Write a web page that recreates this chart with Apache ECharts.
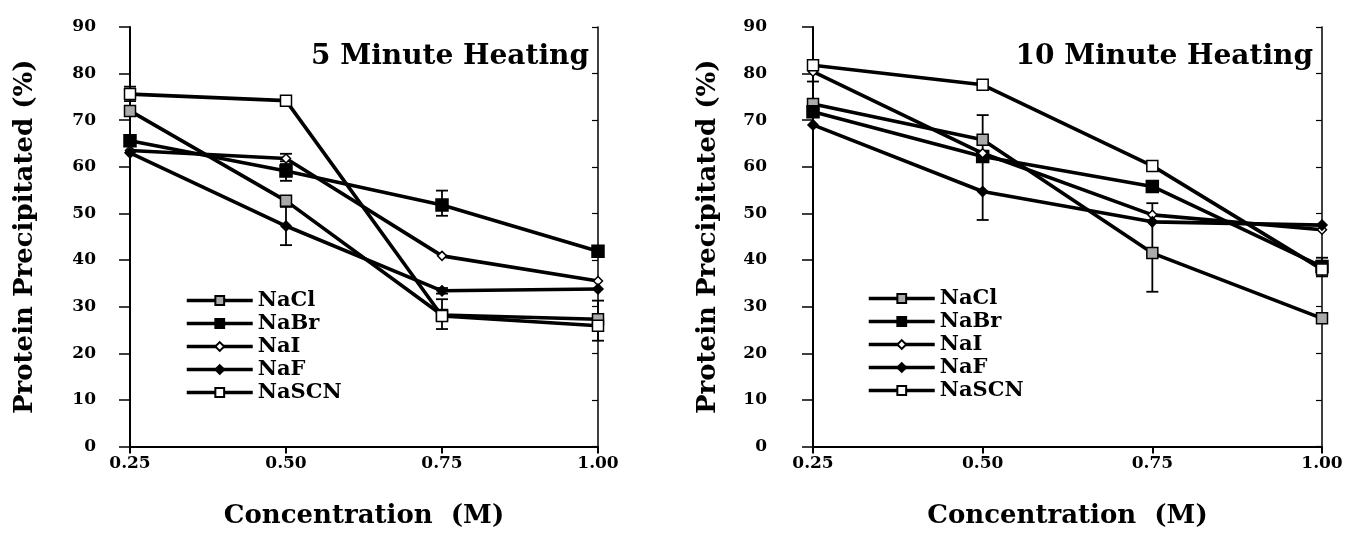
<!DOCTYPE html>
<html><head><meta charset="utf-8">
<script src="https://cdn.jsdelivr.net/npm/echarts@6/dist/echarts.min.js"></script>
<style>html,body{margin:0;padding:0;background:#fff}#c{width:1352px;height:538px}</style>
</head><body><div id="c"></div>
<script>
// ---- data ----
const concentrations = [0.25, 0.50, 0.75, 1.00];
const yTicks = [0,10,20,30,40,50,60,70,80,90];
const saltNames = ['NaCl','NaBr','NaI','NaF','NaSCN'];
// 5 minute heating
const NaCl_5  = [72.0, 52.7, 28.2, 27.3];
const NaBr_5  = [65.6, 59.1, 51.8, 41.9];
const NaI_5   = [63.5, 61.8, 40.9, 35.5];
const NaF_5   = [63.0, 47.3, 33.4, 33.8];
const NaSCN_5 = [75.6, 74.2, 28.0, 25.9];
// error bars [x, low, high]
const err_5 = [[0.25,74.1,77.2],[0.50,60.6,62.8],[0.50,57.0,61.2],[0.50,43.2,51.4],
               [0.75,49.5,54.9],[0.75,32.8,34.0],[0.75,25.2,31.6],[1.00,22.7,31.3]];
// 10 minute heating
const NaCl_10  = [73.5, 65.8, 41.5, 27.5];
const NaBr_10  = [71.8, 62.2, 55.8, 38.6];
const NaI_10   = [80.4, 62.9, 49.7, 46.5];
const NaF_10   = [69.0, 54.7, 48.2, 47.5];
const NaSCN_10 = [81.8, 77.6, 60.2, 38.0];
const err_10 = [[0.25,78.3,82.6],[0.50,48.6,71.1],[0.75,33.2,52.2],[1.00,36.5,40.5]];
const panelTitles = ['5 Minute Heating','10 Minute Heating'];
const xTitle = 'Concentration  (M)';
const yTitle = 'Protein Precipitated (%)';

// ---- chart ----
const FONT = 'DejaVu Serif';
const symbols = {
  NaCl:  {symbol:'rect', size:11, fill:'#aaa'},
  NaBr:  {symbol:'rect', size:12, fill:'#000'},
  NaI:   {symbol:'diamond', size:9, fill:'#fff'},
  NaF:   {symbol:'diamond', size:10, fill:'#000'},
  NaSCN: {symbol:'rect', size:11, fill:'#fff'}
};
const data5 = {NaCl:NaCl_5, NaBr:NaBr_5, NaI:NaI_5, NaF:NaF_5, NaSCN:NaSCN_5};
const data10 = {NaCl:NaCl_10, NaBr:NaBr_10, NaI:NaI_10, NaF:NaF_10, NaSCN:NaSCN_10};

function lineSeries(name, vals, idx){
  const s = symbols[name];
  return {
    type:'line', name, xAxisIndex:idx, yAxisIndex:idx*2,
    data: concentrations.map((c,i)=>[c, vals[i]]),
    symbol:s.symbol, symbolSize:s.size, showAllSymbol:true,
    lineStyle:{color:'#000', width:3.6},
    itemStyle:{color:s.fill, borderColor:'#000', borderWidth:1.5},
    z:3, animation:false
  };
}
function errSeries(arr, idx){
  return {
    type:'custom', xAxisIndex:idx, yAxisIndex:idx*2, data:arr, z:2, animation:false,
    renderItem:(params, api)=>{
      const p1 = api.coord([api.value(0), api.value(1)]);
      const p2 = api.coord([api.value(0), api.value(2)]);
      const w = 6;
      const st = {stroke:'#000', lineWidth:1.8};
      return {type:'group', children:[
        {type:'line', shape:{x1:p1[0],y1:p1[1],x2:p2[0],y2:p2[1]}, style:st},
        {type:'line', shape:{x1:p1[0]-w,y1:p1[1],x2:p1[0]+w,y2:p1[1]}, style:st},
        {type:'line', shape:{x1:p2[0]-w,y1:p2[1],x2:p2[0]+w,y2:p2[1]}, style:st}
      ]};
    }
  };
}
const grids = [
  {left:130, right:754, top:27, bottom:91.5},
  {left:813, right:30, top:27, bottom:91.5}
];
const labelMargins = [34, 46];
const xAxes = [], yAxes = [];
grids.forEach((g,i)=>{
  xAxes.push({type:'value', gridIndex:i, min:0.25, max:1.0, interval:0.25,
    axisLine:{lineStyle:{color:'#000', width:2}},
    axisTick:{show:true, length:7, lineStyle:{color:'#000', width:2}},
    axisLabel:{color:'#000', fontFamily:FONT, fontWeight:'bold', fontSize:17, margin:9,
      formatter:v=>v.toFixed(2)},
    splitLine:{show:false},
    name:xTitle, nameLocation:'middle', nameGap:57,
    nameTextStyle:{color:'#000', fontFamily:FONT, fontWeight:'bold', fontSize:26}
  });
  yAxes.push({type:'value', gridIndex:i, min:0, max:90, interval:10,
    axisLine:{lineStyle:{color:'#000', width:2}},
    axisTick:{show:true, length:11, lineStyle:{color:'#000', width:1.5}},
    axisLabel:{color:'#000', fontFamily:FONT, fontWeight:'bold', fontSize:17, margin:labelMargins[i],
      formatter:v=>yTicks.includes(v)?String(v):''},
    splitLine:{show:false},
    name:yTitle, nameLocation:'middle', nameGap:92,
    nameTextStyle:{color:'#000', fontFamily:FONT, fontWeight:'bold', fontSize:26}
  });
  yAxes.push({type:'value', gridIndex:i, position:'right', min:0, max:90, interval:10,
    axisLine:{lineStyle:{color:'#000', width:1.5}},
    axisTick:{show:true, inside:true, length:6, lineStyle:{color:'#000', width:1.2}},
    axisLabel:{show:false}, splitLine:{show:false}});
});
const series = [];
saltNames.forEach(n=>series.push(lineSeries(n, data5[n], 0)));
saltNames.forEach(n=>series.push(lineSeries(n, data10[n], 1)));
series.push(errSeries(err_5, 0));
series.push(errSeries(err_10, 1));

const legendBase = {orient:'vertical', itemWidth:66, itemHeight:11, itemGap:2,
  lineStyle:{width:3.5, color:'#000'},
  textStyle:{color:'#000', fontFamily:FONT, fontWeight:'bold', fontSize:21},
  data:saltNames, selectedMode:false};
const chart = echarts.init(document.getElementById('c'), null, {renderer:'canvas'});
chart.setOption({
  backgroundColor:'#fff',
  animation:false,
  grid:grids,
  xAxis:xAxes, yAxis:yAxes,
  title:[
    {text:panelTitles[0], right:1352-594, top:38,
      textStyle:{color:'#000', fontFamily:FONT, fontWeight:'bold', fontSize:28}},
    {text:panelTitles[1], right:34, top:38,
      textStyle:{color:'#000', fontFamily:FONT, fontWeight:'bold', fontSize:28}}
  ],
  legend:[
    Object.assign({}, legendBase, {left:180, top:285}),
    Object.assign({}, legendBase, {left:862, top:283})
  ],
  series
});
</script></body></html>
